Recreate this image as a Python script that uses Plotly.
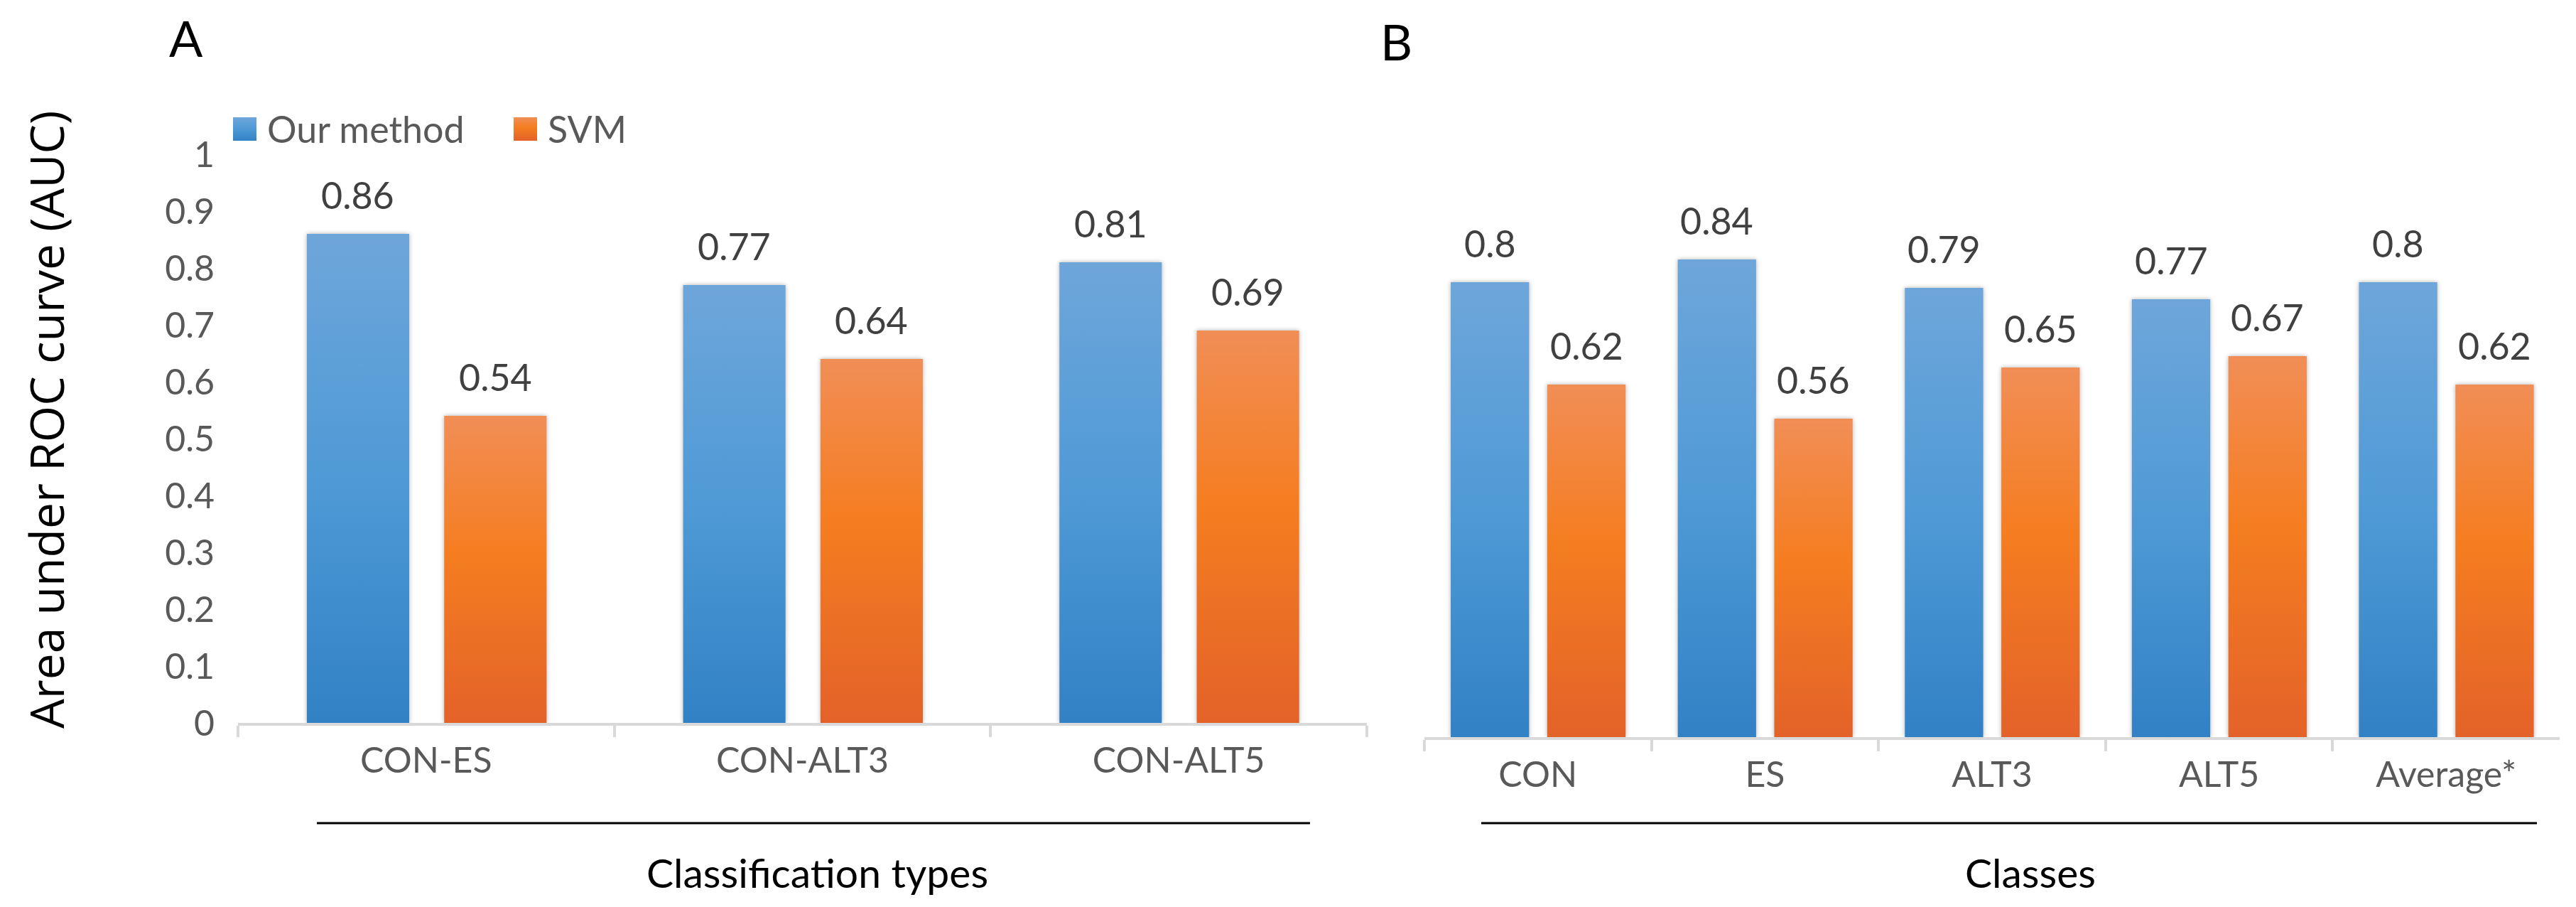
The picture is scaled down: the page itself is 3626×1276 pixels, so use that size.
import plotly.graph_objects as go

# Panel A: pairwise classification
cats_a = ["CON-ES", "CON-ALT3", "CON-ALT5"]
ours_a = [0.86, 0.77, 0.81]
svm_a = [0.54, 0.64, 0.69]

# Panel B: per class
cats_b = ["CON", "ES", "ALT3", "ALT5", "Average*"]
ours_b = [0.80, 0.84, 0.79, 0.77, 0.80]
svm_b = [0.62, 0.56, 0.65, 0.67, 0.62]

series_names = ["Our method", "SVM"]
y_ticks = [0, 0.1, 0.2, 0.3, 0.4, 0.5, 0.6, 0.7, 0.8, 0.9, 1]

W, H = 3626, 1276
BLUE = "rgb(74, 148, 211)"
ORANGE = "rgb(239, 117, 39)"
FONT = "Lato"
TICK_GREY = "#595959"
LABEL_GREY = "#404040"
AXIS_GREY = "#d9d9d9"


def px_x(v):
    return v / W


def px_y(v):
    return 1 - v / H


# bar placement inside a category (category units)
bars_a = {"ours": (-0.317, 0.272), "svm": (0.048, 0.272)}
bars_b = {"ours": (-0.384, 0.345), "svm": (0.041, 0.345)}

fig = go.Figure()

for name, vals, cats, (off, wid), color, xa, ya in [
    (series_names[0], ours_a, cats_a, bars_a["ours"], BLUE, "x", "y"),
    (series_names[1], svm_a, cats_a, bars_a["svm"], ORANGE, "x", "y"),
    (series_names[0], ours_b, cats_b, bars_b["ours"], BLUE, "x2", "y2"),
    (series_names[1], svm_b, cats_b, bars_b["svm"], ORANGE, "x2", "y2"),
]:
    fig.add_trace(go.Bar(x=cats, y=vals, name=name, xaxis=xa, yaxis=ya,
                         offset=off, width=wid, marker=dict(color=color, line=dict(width=0)),
                         showlegend=False, hoverinfo="x+y+name"))

# value labels above each bar
annotations = []
for vals, (off, wid), xa, ya in [
    (ours_a, bars_a["ours"], "x", "y"), (svm_a, bars_a["svm"], "x", "y"),
    (ours_b, bars_b["ours"], "x2", "y2"), (svm_b, bars_b["svm"], "x2", "y2"),
]:
    for i, v in enumerate(vals):
        annotations.append(dict(x=i + off + wid / 2, y=v, xref=xa, yref=ya, text=str(v),
                                showarrow=False, xanchor="center", yanchor="bottom", yshift=22,
                                font=dict(family=FONT, size=52, color=LABEL_GREY)))


def paper_text(x, y, text, size, color="black", family=FONT, **kw):
    return dict(x=px_x(x), y=px_y(y), xref="paper", yref="paper", text=text, showarrow=False,
                xanchor=kw.pop("xanchor", "center"), yanchor="middle",
                font=dict(family=family, size=size, color=color), **kw)


# panel letters, axis titles
annotations += [
    paper_text(262, 53, "A", 70),
    paper_text(1965, 58, "B", 70),
    paper_text(64, 591, "Area under ROC curve (AUC)", 66, family="Open Sans", textangle=-90),
    paper_text(1150, 1227, "Classification types", 57),
    paper_text(2858, 1227, "Classes", 57),
]

# legend drawn by hand so the swatches can be large
legend_items = [(series_names[0], BLUE, 328), (series_names[1], ORANGE, 723)]
shapes = []
for label, color, x0 in legend_items:
    shapes.append(dict(type="rect", xref="paper", yref="paper",
                       x0=px_x(x0), x1=px_x(x0 + 33), y0=px_y(198), y1=px_y(165),
                       fillcolor=color, line=dict(width=0)))
    annotations.append(paper_text(x0 + 46, 181, label, 52, color=TICK_GREY, xanchor="left"))

# black rules above the axis titles
for x0, x1 in [(446, 1844), (2085, 3571)]:
    shapes.append(dict(type="line", xref="paper", yref="paper", x0=px_x(x0), x1=px_x(x1),
                       y0=px_y(1158), y1=px_y(1158), line=dict(color="black", width=3)))

xaxis_style = dict(type="category", showline=True, linecolor=AXIS_GREY, linewidth=4,
                   ticks="outside", tickson="boundaries", ticklen=16, tickwidth=4,
                   tickcolor=AXIS_GREY, showgrid=False, zeroline=False, automargin=False,
                   tickfont=dict(family=FONT, size=50, color=TICK_GREY), ticklabelstandoff=6)

fig.update_layout(
    width=W, height=H, autosize=False,
    margin=dict(l=0, r=0, t=0, b=0, pad=0, autoexpand=False),
    paper_bgcolor="white", plot_bgcolor="white",
    barmode="overlay", showlegend=False,
    xaxis=dict(domain=[px_x(335), px_x(1924)], range=[-0.5, 2.5], anchor="y", **xaxis_style),
    yaxis=dict(domain=[px_y(1017), px_y(217)], range=[0, 1], tickvals=y_ticks,
               ticktext=[f"{t:g}" for t in y_ticks], showgrid=False, zeroline=False,
               showline=False, ticks="", ticklabelstandoff=32, automargin=False,
               tickfont=dict(family=FONT, size=50, color=TICK_GREY)),
    xaxis2=dict(domain=[px_x(2005), px_x(3603)], range=[-0.5, 4.5], anchor="y2", **xaxis_style),
    yaxis2=dict(domain=[px_y(1037), px_y(237)], range=[0, 1], anchor="x2", visible=False,
                automargin=False),
    annotations=annotations,
    shapes=shapes,
)

# Excel-like vertical gradients on the bars and swatches
post_js = """
document.body.style.margin = '0';
var gd = document.getElementById('{plot_id}');
var ns = 'http://www.w3.org/2000/svg';
var svg = gd.querySelector('svg.main-svg');
var defs = svg.querySelector('defs');
if (!defs) { defs = document.createElementNS(ns, 'defs'); svg.insertBefore(defs, svg.firstChild); }
var specs = {
  'BLUEKEY': ['gradBlue', [[0, '#6ea6da'], [0.5, '#4f9ad6'], [1, '#3281c5']]],
  'ORANGEKEY': ['gradOrange', [[0, '#f18e56'], [0.45, '#f57d20'], [1, '#e36229']]]
};
Object.keys(specs).forEach(function(k) {
  var g = document.createElementNS(ns, 'linearGradient');
  g.setAttribute('id', specs[k][0]);
  g.setAttribute('x1', '0'); g.setAttribute('y1', '0');
  g.setAttribute('x2', '0'); g.setAttribute('y2', '1');
  specs[k][1].forEach(function(s) {
    var st = document.createElementNS(ns, 'stop');
    st.setAttribute('offset', s[0]);
    st.setAttribute('stop-color', s[1]);
    g.appendChild(st);
  });
  defs.appendChild(g);
});
gd.querySelectorAll('path').forEach(function(p) {
  var f = p.style.fill;
  if (specs[f]) {
    p.style.fill = 'url(#' + specs[f][0] + ')';
    if (p.closest('.barlayer')) { p.style.filter = 'drop-shadow(0px 0px 3px rgba(0,0,0,0.3))'; }
  }
});
""".replace("BLUEKEY", BLUE).replace("ORANGEKEY", ORANGE)

fig.write_html("out.html", config={"displayModeBar": False}, post_script=post_js)
